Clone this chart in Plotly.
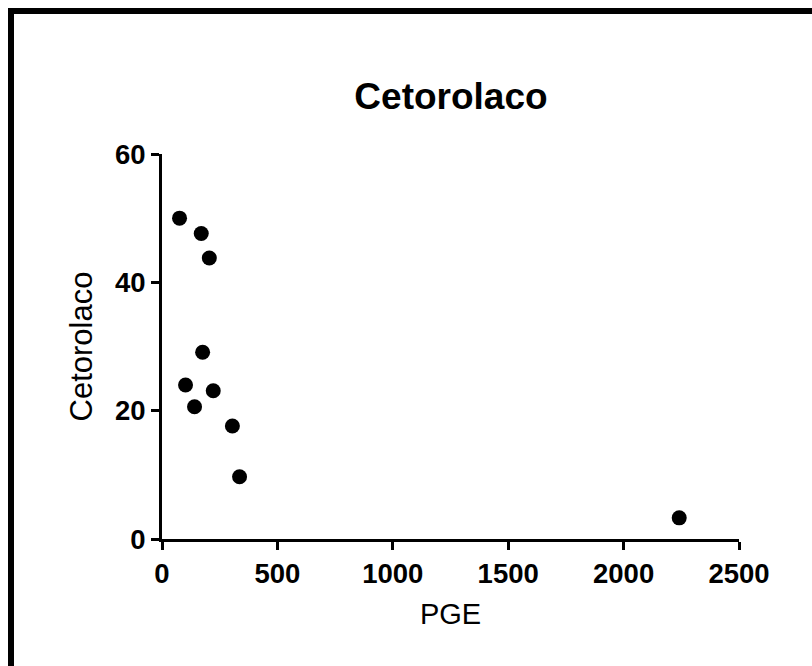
import plotly.graph_objects as go

pge = [76, 170, 205, 176, 102, 222, 141, 305, 336, 2241]
cetorolaco = [50.0, 47.6, 43.8, 29.1, 24.0, 23.1, 20.6, 17.6, 9.7, 3.3]

x_ticks = [0, 500, 1000, 1500, 2000, 2500]
y_ticks = [0, 20, 40, 60]

W, H = 812, 666
L, R, T, B = 162, 73, 154, 127
pw, ph = W - L - R, H - T - B

FONT = "Liberation Sans, Arial, sans-serif"

fig = go.Figure(go.Scatter(
    x=pge, y=cetorolaco, mode="markers",
    marker=dict(color="black", size=15, line=dict(width=0)),
))

def px2paper_x(px):
    return (px - L) / pw

def px2paper_y(py):
    return (H - B - py) / ph

# frame lines (top and left) around the figure
fig.add_shape(type="line", xref="paper", yref="paper",
              x0=px2paper_x(8), x1=px2paper_x(W + 5), y0=px2paper_y(11), y1=px2paper_y(11),
              line=dict(color="black", width=6))
fig.add_shape(type="line", xref="paper", yref="paper",
              x0=px2paper_x(11), x1=px2paper_x(11), y0=px2paper_y(8), y1=px2paper_y(H + 5),
              line=dict(color="black", width=6))

axis_common = dict(
    showline=True, linecolor="black", linewidth=3,
    ticks="outside", ticklen=8, tickwidth=3, tickcolor="black",
    showgrid=False, zeroline=False,
    tickfont=dict(family=FONT, size=27.5, color="black", weight="bold"),
)

fig.update_layout(
    width=W, height=H,
    margin=dict(l=L, r=R, t=T, b=B),
    paper_bgcolor="white", plot_bgcolor="white",
    showlegend=False,
    title=dict(text="<b>Cetorolaco</b>", x=px2paper_x(451), xref="paper", xanchor="center",
               y=1 - 96 / H, yref="container", yanchor="middle",
               font=dict(family=FONT, size=37, color="black")),
    xaxis=dict(range=[0, 2500], tickvals=x_ticks, ticktext=[str(v) for v in x_ticks],
               title=dict(text="PGE", standoff=16,
                          font=dict(family=FONT, size=29, color="black")),
               **axis_common),
    yaxis=dict(range=[0, 60], tickvals=y_ticks, ticktext=[str(v) for v in y_ticks],
               title=dict(text="Cetorolaco", standoff=14,
                          font=dict(family=FONT, size=31, color="black")),
               **axis_common),
)

fig.write_html("out.html")
